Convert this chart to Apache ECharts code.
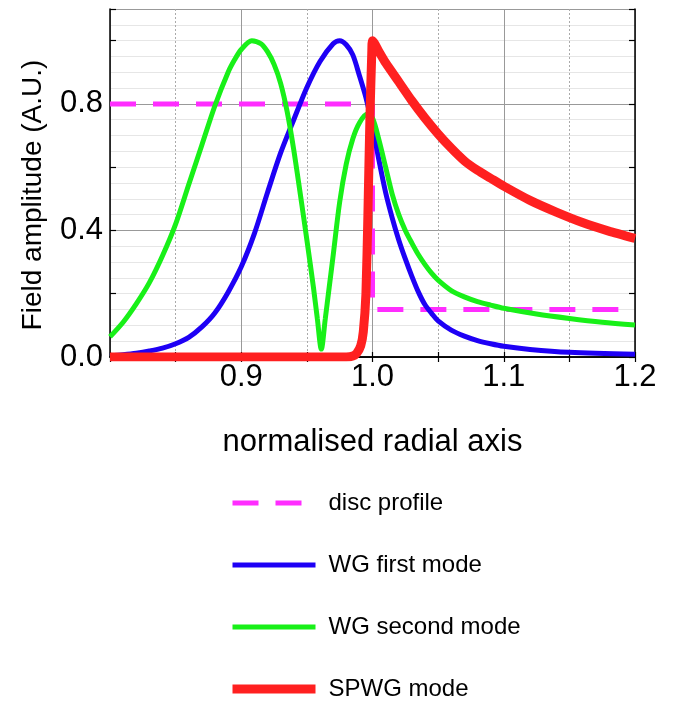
<!DOCTYPE html>
<html>
<head>
<meta charset="utf-8">
<script src="https://cdn.jsdelivr.net/npm/echarts@6/dist/echarts.min.js"></script>
<style>html,body{margin:0;padding:0;background:#fff;}#c{width:676px;height:702px;}</style>
</head>
<body>
<div id="c"></div>
<script>
// ---- data ----
const xTickLabels = ['0.9', '1.0', '1.1', '1.2'];
const yTickLabels = ['0.0', '0.4', '0.8'];
const seriesNames = ['disc profile', 'WG first mode', 'WG second mode', 'SPWG mode'];

const discX = [0.8, 1.0, 1.0, 1.2];
const discY = [0.8, 0.8, 0.15, 0.15];

const blueX = [0.80,0.81,0.82,0.83,0.84,0.85,0.86,0.87,0.88,0.89,0.90,0.91,0.92,0.93,0.94,0.95,0.96,0.97,0.975,0.98,0.985,0.99,0.995,1.00,1.005,1.01,1.015,1.02,1.025,1.03,1.035,1.04,1.045,1.05,1.06,1.07,1.08,1.09,1.10,1.12,1.15,1.20];
const blueY = [0.003,0.007,0.012,0.019,0.028,0.042,0.062,0.095,0.14,0.205,0.285,0.39,0.52,0.645,0.75,0.852,0.934,0.99,1.0,0.987,0.955,0.89,0.82,0.73,0.62,0.52,0.44,0.37,0.31,0.255,0.205,0.165,0.138,0.114,0.085,0.066,0.052,0.042,0.034,0.024,0.015,0.009];

const greenX = [0.80,0.81,0.82,0.83,0.84,0.85,0.86,0.87,0.88,0.89,0.895,0.90,0.908,0.915,0.92,0.925,0.93,0.935,0.94,0.945,0.95,0.955,0.958,0.961,0.964,0.967,0.97,0.975,0.98,0.985,0.99,0.996,1.0,1.005,1.01,1.015,1.02,1.025,1.03,1.035,1.04,1.045,1.05,1.06,1.07,1.08,1.09,1.10,1.125,1.15,1.175,1.20];
const greenY = [0.064,0.11,0.168,0.235,0.32,0.42,0.545,0.67,0.795,0.9,0.94,0.972,1.0,0.99,0.965,0.925,0.865,0.775,0.655,0.515,0.37,0.22,0.12,0.025,0.12,0.22,0.32,0.49,0.61,0.69,0.74,0.768,0.755,0.685,0.60,0.515,0.45,0.40,0.36,0.323,0.292,0.265,0.243,0.21,0.19,0.175,0.164,0.154,0.136,0.122,0.11,0.101];

const redX = [0.80,0.98,0.985,0.988,0.991,0.993,0.995,0.9965,0.998,0.9995,1.0,1.005,1.01,1.02,1.03,1.04,1.05,1.06,1.07,1.08,1.09,1.10,1.12,1.14,1.16,1.18,1.20];
const redY = [0,0,0.003,0.012,0.035,0.08,0.2,0.45,0.75,0.97,1.0,0.965,0.93,0.87,0.81,0.755,0.705,0.66,0.62,0.59,0.565,0.54,0.495,0.458,0.425,0.398,0.375];

// ---- chart ----
const FONT = 'Liberation Sans, Arial, Helvetica, sans-serif';
const pairs = (xs, ys) => xs.map((x, i) => [x, ys[i]]);

const chart = echarts.init(document.getElementById('c'), null, {renderer: 'canvas'});

const frameLine = {show: true, lineStyle: {color: '#000', width: 1.5}};
const xBase = {type: 'value', min: 0.8, max: 1.2, interval: 0.1, gridIndex: 0};
const yBase = {type: 'value', min: 0, max: 1.1, gridIndex: 0};

chart.setOption({
  animation: false,
  backgroundColor: '#fff',
  grid: {left: 110, right: 41, top: 9, bottom: 345, containLabel: false},
  xAxis: [
    Object.assign({}, xBase, {
      position: 'bottom',
      axisLine: frameLine,
      axisTick: {show: true, inside: true, length: 5, lineStyle: {color: '#000', width: 1.2}},
      minorTick: {show: true, splitNumber: 2, length: 5, lineStyle: {color: '#000', width: 1.2}},
      axisLabel: {
        margin: 5, fontSize: 31, fontFamily: FONT, color: '#000',
        formatter: v => { const s = v.toFixed(1); return xTickLabels.includes(s) ? s : ''; }
      },
      splitLine: {show: true, lineStyle: {color: '#999', width: 1}},
      minorSplitLine: {show: true, lineStyle: {color: '#aaa', width: 1, type: [2, 2]}},
      name: 'normalised radial axis', nameLocation: 'middle', nameGap: 70,
      nameTextStyle: {fontSize: 31, fontFamily: FONT, color: '#000'}
    }),
    Object.assign({}, xBase, {
      position: 'top',
      axisLine: frameLine,
      axisTick: {show: true, inside: true, length: 5, lineStyle: {color: '#000', width: 1.2}},
      minorTick: {show: true, splitNumber: 2, length: 5, lineStyle: {color: '#000', width: 1.2}},
      axisLabel: {show: false}, splitLine: {show: false}
    })
  ],
  yAxis: [
    Object.assign({}, yBase, {
      position: 'left', interval: 0.2,
      axisLine: frameLine,
      axisTick: {show: true, inside: true, length: 6, lineStyle: {color: '#000', width: 1.2}},
      axisLabel: {
        margin: 7, fontSize: 31, fontFamily: FONT, color: '#000',
        formatter: v => { const s = v.toFixed(1); return yTickLabels.includes(s) ? s : ''; }
      },
      splitLine: {show: false},
      name: 'Field amplitude (A.U.)', nameLocation: 'middle', nameGap: 63,
      nameTextStyle: {fontSize: 28, fontFamily: FONT, color: '#000', padding: [0, 24, 0, 0]}
    }),
    Object.assign({}, yBase, {
      position: 'right', interval: 0.2,
      axisLine: frameLine,
      axisTick: {show: true, inside: true, length: 6, lineStyle: {color: '#000', width: 1.2}},
      axisLabel: {show: false}, splitLine: {show: false}
    }),
    Object.assign({}, yBase, {
      position: 'left', interval: 0.05,
      axisLine: {show: false}, axisTick: {show: false}, axisLabel: {show: false},
      splitLine: {show: true, lineStyle: {color: '#e6e6e6', width: 1}}
    }),
    Object.assign({}, yBase, {
      position: 'left', interval: 0.4,
      axisLine: {show: false}, axisTick: {show: false}, axisLabel: {show: false},
      splitLine: {show: true, lineStyle: {color: '#999', width: 1}}
    })
  ],
  legend: {
    orient: 'vertical', left: 228, top: 491, padding: 0,
    itemWidth: 83, itemHeight: 14, itemGap: 38,
    data: seriesNames,
    itemStyle: {opacity: 0},
    lineStyle: {width: 'inherit', type: 'inherit'},
    textStyle: {fontSize: 24, fontFamily: FONT, color: '#000', lineHeight: 24, padding: [0, 0, 0, 8]}
  },
  series: [
    {
      name: seriesNames[0], type: 'line', data: pairs(discX, discY), symbol: 'none',
      lineStyle: {color: '#ff2dff', width: 5, type: [26, 17]}, itemStyle: {color: '#ff2dff'}
    },
    {
      name: seriesNames[1], type: 'line', data: pairs(blueX, blueY), symbol: 'none', smooth: 0.3,
      lineStyle: {color: '#1e00f5', width: 5}, itemStyle: {color: '#1e00f5'}
    },
    {
      name: seriesNames[2], type: 'line', data: pairs(greenX, greenY), symbol: 'none', smooth: 0.3,
      lineStyle: {color: '#18f018', width: 5}, itemStyle: {color: '#18f018'}
    },
    {
      name: seriesNames[3], type: 'line', data: pairs(redX, redY), symbol: 'none', smooth: 0.2,
      lineStyle: {color: '#ff2020', width: 9}, itemStyle: {color: '#ff2020'}
    }
  ]
});
</script>
</body>
</html>
